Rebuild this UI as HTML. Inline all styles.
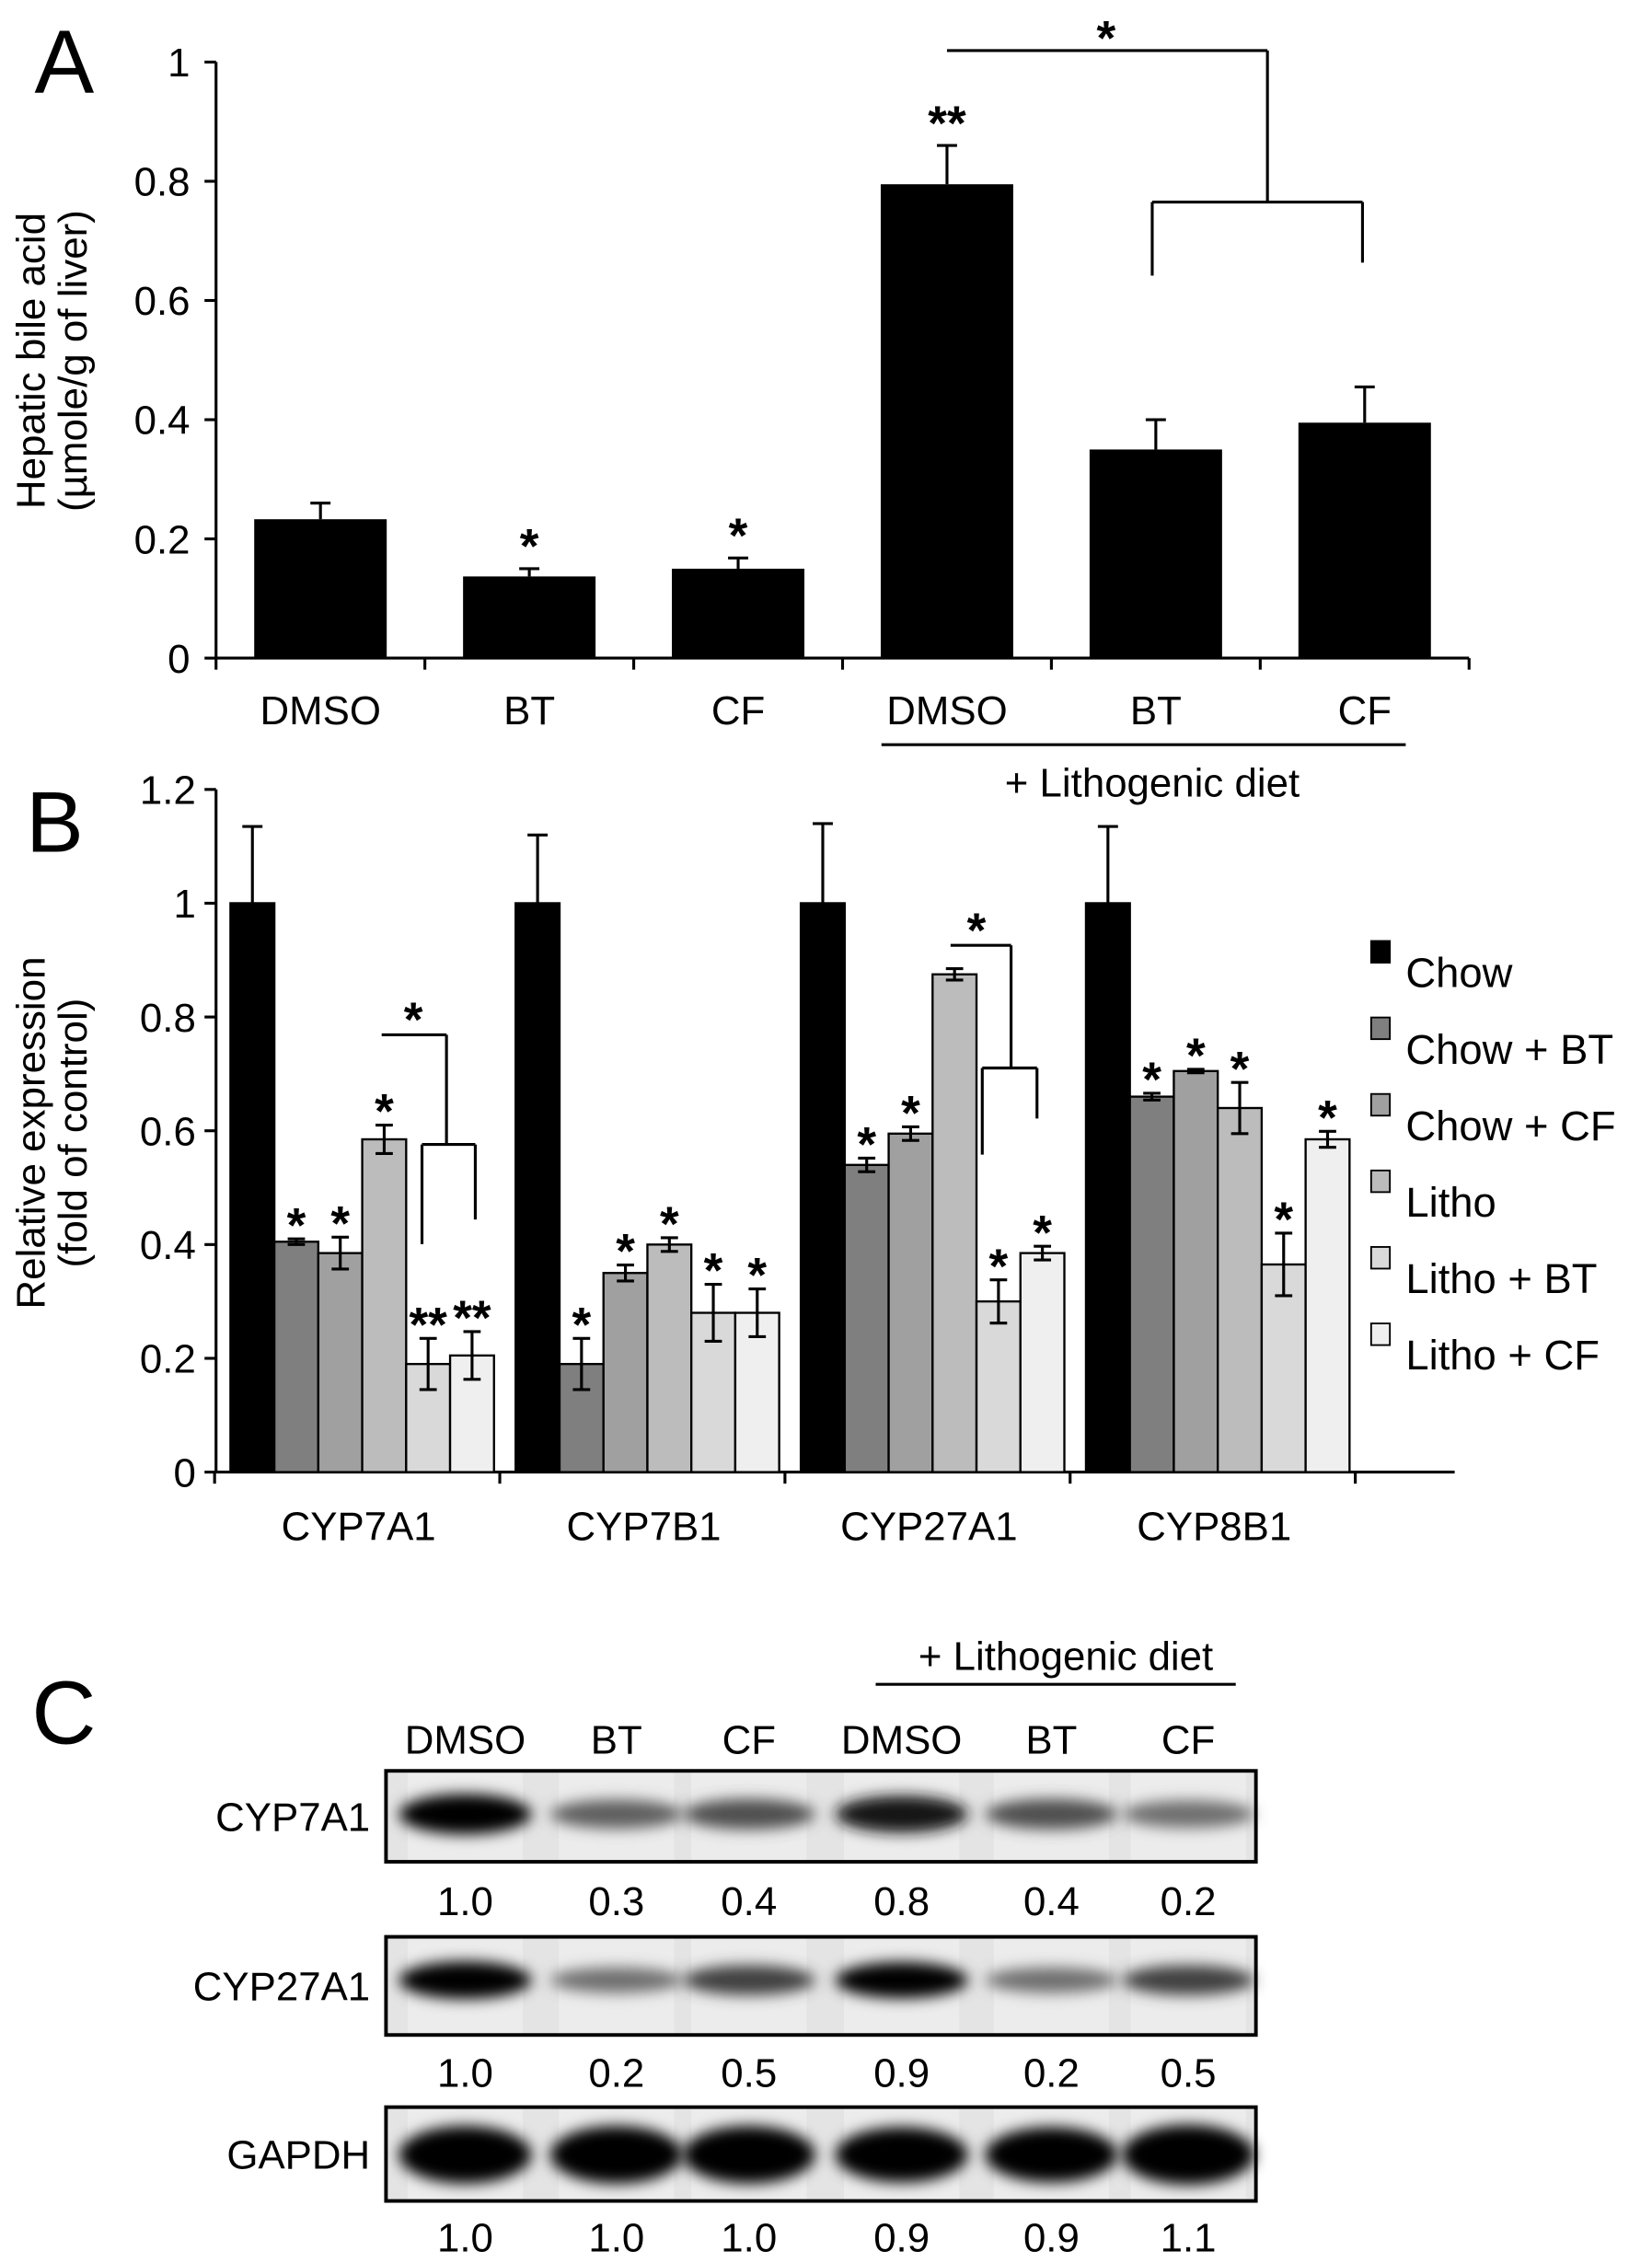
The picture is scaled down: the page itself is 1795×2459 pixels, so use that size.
<!DOCTYPE html>
<html><head><meta charset="utf-8"><style>
html,body{margin:0;padding:0;background:#fff;}
svg{display:block;font-family:"Liberation Sans",Arial,sans-serif;}
</style></head><body>
<svg id="fig" width="1795" height="2459" viewBox="0 0 1147 1568" preserveAspectRatio="none" xmlns="http://www.w3.org/2000/svg">
<defs><filter id="blur" x="-50%" y="-100%" width="200%" height="300%"><feGaussianBlur stdDeviation="5"/></filter></defs>
<g id="pa"></g>
<g id="pb"></g>
<g id="pc"></g>
</svg>
<script>
// Panel A data
const aCats = ["DMSO","BT","CF","DMSO","BT","CF"];
const aVals = [0.233,0.137,0.150,0.795,0.350,0.395];
const aErr  = [0.027,0.013,0.018,0.065,0.050,0.060];
const aStars = ["","*","*","**","",""];
const aTicks = [0,0.2,0.4,0.6,0.8,1];
const aTickLabels = ["0","0.2","0.4","0.6","0.8","1"];
// Panel B data
const bGenes = ["CYP7A1","CYP7B1","CYP27A1","CYP8B1"];
const bSeries = ["Chow","Chow + BT","Chow + CF","Litho","Litho + BT","Litho + CF"];
const bChow   = [1,1,1,1];
const bChowBT = [0.405,0.19,0.54,0.66];
const bChowCF = [0.385,0.35,0.595,0.705];
const bLitho  = [0.585,0.40,0.875,0.64];
const bLithoBT= [0.19,0.28,0.30,0.365];
const bLithoCF= [0.205,0.28,0.385,0.585];
const eChow   = [0.135,0.12,0.14,0.135];
const eChowBT = [0.005,0.045,0.012,0.006];
const eChowCF = [0.028,0.014,0.012,0.003];
const eLitho  = [0.025,0.012,0.01,0.045];
const eLithoBT= [0.045,0.05,0.038,0.055];
const eLithoCF= [0.042,0.042,0.012,0.014];
const bStars = [["","*","*","*","**","**"],["","*","*","*","*","*"],["","*","*","","*","*"],["","*","*","*","*","*"]];
const bTicks = [0,0.2,0.4,0.6,0.8,1,1.2];
const bTickLabels = ["0","0.2","0.4","0.6","0.8","1","1.2"];
// Panel C data
const cLanes = ["DMSO","BT","CF","DMSO","BT","CF"];
const cProteins = ["CYP7A1","CYP27A1","GAPDH"];
const cCyp7a1 = [1.0,0.3,0.4,0.8,0.4,0.2];
const cCyp27a1 = [1.0,0.2,0.5,0.9,0.2,0.5];
const cGapdh = [1.0,1.0,1.0,0.9,0.9,1.1];

const NS="http://www.w3.org/2000/svg";
function mk(parent,tag,attrs,text){const e=document.createElementNS(NS,tag);for(const k in attrs)e.setAttribute(k,attrs[k]);if(text!==undefined)e.textContent=text;parent.appendChild(e);return e;}
function line(p,x1,y1,x2,y2,w){return mk(p,"line",{x1,y1,x2,y2,stroke:"#000","stroke-width":w||2});}
const STAR=34;

// ---------- Panel A ----------
const pa=document.getElementById("pa");
const aX0=150,aX1=1020,aY0=456,aY1=43;
const ay=v=>aY0-(v/1)*(aY0-aY1);
const aCw=(aX1-aX0)/aCats.length;
const ax=i=>aX0+aCw*(i+0.5);
let t=mk(pa,"text",{x:24,y:64,"font-size":62},"A");


line(pa,aX0,aY1,aX0,aY0);
line(pa,aX0,aY0,aX1,aY0);
aTicks.forEach((v,i)=>{line(pa,aX0-8,ay(v),aX0,ay(v));
 const l=mk(pa,"text",{x:132,y:ay(v)+10,"font-size":28,"text-anchor":"end"},aTickLabels[i]);
 
 });
for(let i=0;i<=aCats.length;i++)line(pa,aX0+aCw*i,aY0,aX0+aCw*i,aY0+8);
aVals.forEach((v,i)=>{const w=92;
 const r=mk(pa,"rect",{x:ax(i)-w/2,y:ay(v),width:w,height:aY0-ay(v),fill:"#000"});
 
 
 line(pa,ax(i),ay(v),ax(i),ay(v+aErr[i]));line(pa,ax(i)-7,ay(v+aErr[i]),ax(i)+7,ay(v+aErr[i]));
 if(aStars[i]){const s=mk(pa,"text",{x:ax(i),y:ay(v+aErr[i])-4,"font-size":STAR,"font-weight":"bold","text-anchor":"middle"},aStars[i]);
  
  }
 const l=mk(pa,"text",{x:ax(i),y:502,"font-size":28,"text-anchor":"middle"},aCats[i]);
 
 });
line(pa,612,516,976,516);
line(pa,ax(3),35,880,35);line(pa,880,35,880,140);line(pa,800,140,946,140);line(pa,800,140,800,191);line(pa,946,140,946,182);
mk(pa,"text",{x:768,y:38,"font-size":STAR,"font-weight":"bold","text-anchor":"middle"},"*");
t=mk(pa,"text",{transform:"translate(31,250) rotate(-90)","font-size":28,"text-anchor":"middle"},"Hepatic bile acid");


t=mk(pa,"text",{transform:"translate(60,250) rotate(-90)","font-size":28,"text-anchor":"middle"},"(µmole/g of liver)");


t=mk(pa,"text",{x:800,y:552,"font-size":28,"text-anchor":"middle"},"+ Lithogenic diet");



// ---------- Panel B ----------
const pb=document.getElementById("pb");
const bX0=150,bX1=942,bY0=1020,bY1=547;
const by=v=>bY0-(v/1.2)*(bY0-bY1);
const gW=(bX1-bX0)/bGenes.length, barW=30.5;
const bx=(g,s)=>bX0+gW*g+10+barW*s;
const series=[bChow,bChowBT,bChowCF,bLitho,bLithoBT,bLithoCF];
const errs=[eChow,eChowBT,eChowCF,eLitho,eLithoBT,eLithoCF];
const fills=["#000","#7f7f7f","#a0a0a0","#bcbcbc","#d9d9d9","#efefef"];
t=mk(pb,"text",{x:18,y:590,"font-size":60},"B");


line(pb,bX0,bY1,bX0,bY0);line(pb,bX0,bY0,1010,bY0);
bTicks.forEach((v,i)=>{line(pb,bX0-8,by(v),bX0,by(v));
 const l=mk(pb,"text",{x:136,y:by(v)+10,"font-size":28,"text-anchor":"end"},bTickLabels[i]);
 
 });
for(let g=0;g<=bGenes.length;g++)line(pb,bX0+gW*g-1,bY0,bX0+gW*g-1,bY0+8);
bGenes.forEach((gn,g)=>{
 series.forEach((arr,s)=>{const v=arr[g],e=errs[s][g],x=bx(g,s),cx=x+barW/2;
  const r=mk(pb,"rect",{x:x,y:by(v),width:barW,height:bY0-by(v),fill:fills[s],stroke:"#000","stroke-width":1.5});
  
  
  if(s===0){line(pb,cx,by(v),cx,by(v+e));line(pb,cx-7,by(v+e),cx+7,by(v+e));}
  else{line(pb,cx,by(v-e),cx,by(v+e));line(pb,cx-6,by(v+e),cx+6,by(v+e));line(pb,cx-6,by(v-e),cx+6,by(v-e));}
  const st=bStars[g][s];
  if(st){const tt=mk(pb,"text",{x:cx,y:by(v+e)+2,"font-size":STAR,"font-weight":"bold","text-anchor":"middle"},st);
   
   }
 });
 const l=mk(pb,"text",{x:bX0+gW*(g+0.5),y:1067,"font-size":28,"text-anchor":"middle"},gn);
 
 
});
line(pb,265,717,310,717);line(pb,310,717,310,793);line(pb,293,793,330,793);line(pb,293,793,293,862);line(pb,330,793,330,845);
mk(pb,"text",{x:287,y:718,"font-size":STAR,"font-weight":"bold","text-anchor":"middle"},"*");
line(pb,660,655,702,655);line(pb,702,655,702,740);line(pb,682,740,720,740);line(pb,682,740,682,800);line(pb,720,740,720,775);
mk(pb,"text",{x:678,y:656,"font-size":STAR,"font-weight":"bold","text-anchor":"middle"},"*");
t=mk(pb,"text",{transform:"translate(31,785) rotate(-90)","font-size":28,"text-anchor":"middle"},"Relative expression");


t=mk(pb,"text",{transform:"translate(60,785) rotate(-90)","font-size":28,"text-anchor":"middle"},"(fold of control)");


bSeries.forEach((nm,s)=>{const y=674+53*s;
 const g=mk(pb,"g",{});
 
 
 mk(g,"rect",{x:952,y:y-22,width:13,height:15,fill:fills[s],stroke:"#000","stroke-width":1.2});
 mk(g,"text",{x:976,y:y+10,"font-size":29},nm);});

// ---------- Panel C ----------
const pc=document.getElementById("pc");
t=mk(pc,"text",{x:22,y:1208,"font-size":62},"C");


const laneX=[323,428,520,626,730,825];
cLanes.forEach((ln,i)=>{const l=mk(pc,"text",{x:laneX[i],y:1215,"font-size":28,"text-anchor":"middle"},ln);
 
 });
line(pc,608,1167,858,1167);
t=mk(pc,"text",{x:740,y:1157,"font-size":28,"text-anchor":"middle"},"+ Lithogenic diet");


const rows=[{y0:1227,y1:1290,bandY:1257,vals:cCyp7a1,ny:1327,h:14},{y0:1342,y1:1410,bandY:1372,vals:cCyp27a1,ny:1446,h:13},{y0:1460,y1:1525,bandY:1493,vals:cGapdh,ny:1560,h:20}];
rows.forEach((r,ri)=>{
 const g=mk(pc,"g",{});
 
 
 mk(g,"rect",{x:268,y:r.y0,width:604,height:r.y1-r.y0,fill:"#e4e4e4"});
 r.vals.forEach((v,i)=>{
  mk(g,"rect",{x:laneX[i]-40,y:r.y0,width:80,height:r.y1-r.y0,fill:"#ececec"});
  const dark=Math.max(0,Math.min(1,0.45+v*0.6));
  const c=Math.round(255*(1-dark));
  mk(g,"ellipse",{cx:laneX[i],cy:r.bandY,rx:46,ry:r.h*(0.6+0.4*Math.min(v,1.1)),fill:`rgb(${c},${c},${c})`,filter:"url(#blur)"});
  const n=mk(pc,"text",{x:laneX[i],y:r.ny,"font-size":28,"text-anchor":"middle"},v.toFixed(1));
  
  
 });
 mk(g,"rect",{x:268,y:r.y0,width:604,height:r.y1-r.y0,fill:"none",stroke:"#000","stroke-width":2.5});
 const l=mk(pc,"text",{x:257,y:(r.y0+r.y1)/2+10,"font-size":28,"text-anchor":"end"},cProteins[ri]);
 
 
});
</script>
</body></html>
